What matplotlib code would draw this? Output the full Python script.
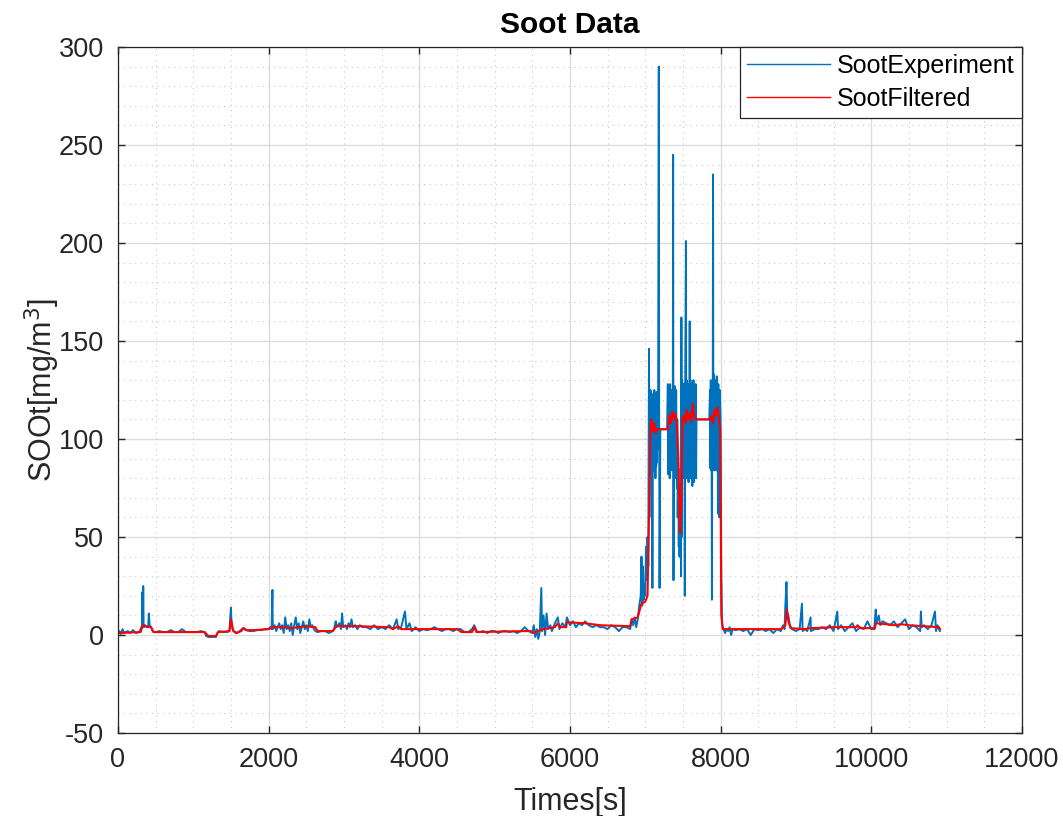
import matplotlib.pyplot as plt
from matplotlib.ticker import MultipleLocator

plt.rcParams['font.family'] = ['Liberation Sans', 'DejaVu Sans']
plt.rcParams['axes.unicode_minus'] = False

# SootExperiment (time [s], value)
t_exp = [
    0, 20, 40, 60, 80, 100, 130, 160, 200, 240, 280, 300, 320, 325, 330, 335, 340, 345, 360, 380,
    400, 410, 420, 440, 460, 480, 500, 550, 600, 650, 700, 750, 800, 850, 900, 950, 1000,
    1050, 1100, 1150, 1170, 1200, 1250, 1300, 1320, 1340, 1400, 1450, 1480, 1490, 1500, 1505,
    1520, 1560, 1600, 1640, 1660, 1680, 1700, 1750, 1800, 1850, 1900, 1950, 2000,
    2020, 2040, 2050, 2055, 2080, 2100, 2120, 2140, 2160, 2180, 2200, 2220, 2240, 2260, 2280,
    2300, 2320, 2340, 2360, 2380, 2400, 2420, 2440, 2460, 2480, 2500, 2520, 2540, 2560, 2580,
    2600, 2620, 2650, 2700, 2750, 2800, 2850, 2870, 2890, 2900, 2920, 2940, 2960, 2975, 2990,
    3020, 3040, 3060, 3080, 3100, 3120, 3150, 3180, 3210, 3250, 3300, 3350, 3400, 3450, 3500,
    3550, 3600, 3650, 3700, 3720, 3760, 3810, 3830, 3870, 3900, 3950, 4000,
    4050, 4100, 4150, 4200, 4250, 4300, 4350, 4400, 4450, 4500, 4550, 4600, 4650, 4700, 4730,
    4760, 4800, 4850, 4900, 4950, 5000,
    5050, 5100, 5150, 5200, 5250, 5300, 5350, 5400, 5450, 5500, 5520, 5540, 5560, 5580, 5600,
    5620, 5630, 5650, 5670, 5690, 5710, 5740, 5760, 5800, 5840, 5860, 5900, 5940, 5960, 6000,
    6040, 6080, 6120, 6160, 6200, 6250, 6300, 6350, 6400, 6450, 6500, 6550, 6600, 6650, 6700,
    6750, 6800, 6820, 6840, 6860, 6880, 6900, 6920, 6940, 6950, 6960, 6970, 6980, 6990, 7000,
    7010, 7020, 7030, 7040,
    7050, 7055, 7060, 7065, 7070, 7075, 7080, 7085, 7090, 7095, 7100, 7105, 7110, 7115, 7120,
    7125, 7130, 7135, 7140, 7145, 7150, 7155, 7160, 7165, 7170, 7180, 7185, 7190, 7200, 7230,
    7260, 7290,
    7300, 7305, 7310, 7315, 7320, 7325, 7330, 7335, 7340, 7345, 7350, 7355, 7360, 7365, 7370,
    7375, 7380, 7385, 7390, 7395, 7400, 7405, 7410, 7420, 7425, 7430, 7440, 7445, 7450, 7455,
    7460, 7465, 7470, 7475, 7480, 7485, 7490, 7495, 7500, 7505, 7510, 7515, 7520, 7525, 7530,
    7540, 7545, 7550, 7555, 7560, 7565, 7570, 7575, 7580, 7585, 7590, 7595, 7600, 7605, 7610,
    7615, 7620, 7625, 7630, 7635, 7640, 7645, 7650, 7655, 7660, 7665, 7670, 7675, 7680,
    7700, 7780, 7850,
    7860, 7865, 7870, 7875, 7880, 7885, 7890, 7895, 7900, 7905, 7910, 7915, 7920, 7925, 7930,
    7935, 7940, 7945, 7950, 7955, 7960, 7965, 7970, 7975, 7980, 7985, 7990, 8000, 8010, 8020,
    8040, 8060, 8080, 8100, 8120, 8140, 8160, 8200, 8250, 8300, 8350, 8400, 8450, 8500, 8550,
    8600, 8650, 8700, 8750, 8800, 8830, 8850, 8860, 8875, 8885, 8900, 8920, 8950, 9000, 9050,
    9080, 9090, 9120, 9150, 9195, 9200, 9250, 9300, 9350, 9400, 9450, 9500, 9550, 9560, 9600,
    9650, 9700, 9750, 9800, 9850, 9900, 9950, 10000, 10040, 10060, 10070, 10100, 10120, 10150,
    10200, 10250, 10300, 10350, 10400, 10450, 10500, 10550, 10600, 10650, 10660, 10670, 10700,
    10750, 10800, 10846, 10860, 10880, 10900, 10912,
]
soot_exp = [
    1, 2, 0.5, 3, 1, 1.5, 2, 1, 2.5, 1, 1.5, 3, 5, 22, 4, 25, 5, 4, 5, 4,
    4, 11, 5, 4, 2, 1.5, 1.5, 2, 1.5, 1.5, 2.5, 1.5, 1.5, 3, 1.5, 1.5, 1.5,
    1.5, 2, 1.5, -0.5, -1, -1, -1, 1, 2, 1.5, 1.5, 2, 9, 14, 8,
    3, 1, 1.5, 2, 3, 3.5, 2.5, 2, 2, 2.5, 2.5, 3, 3,
    4, 3, 23, 3, 5, 2, 4, 6, 3, 5, 1, 9, 3, 5, 2,
    6, 0, 5, 9, 3, 6, 1, 4, 7, 3, 5, 2, 8, 4, 5,
    3, 2, 1.5, 2, 2, 1, 2, 3, 7, 4, 5, 6, 3, 11, 4,
    5, 3, 6, 4, 8, 4, 5, 3, 5, 4, 4, 3, 5, 3, 4,
    3, 5, 3, 8, 3, 4, 12, 3, 6, 2, 4, 2,
    3, 2.5, 3, 4, 3, 2, 3, 3, 2, 3, 3, 1.5, 1.5, 3, 5,
    2, 1.5, 2, 1, 2, 2,
    1, 2, 2, 1.5, 2, 1, 2, 4, 2, 1, 5, -1, 3, -2, 2,
    24, 2, 10, 0, 11, 3, 5, 2, 6, 9, 3, 6, 4, 9, 5,
    7, 4, 6, 5, 7, 5, 4, 5, 4, 4, 3, 5, 4, 2, 4,
    4, 3, 8, 5, 9, 4, 8, 15, 20, 40, 15, 35, 18, 25, 20,
    45, 28, 50, 35,
    146, 60, 120, 85, 125, 82, 118, 88, 123, 24, 122, 85, 115, 84, 125,
    95, 120, 80, 115, 86, 124, 88, 120, 95, 105, 290, 105, 24, 105, 105,
    105, 105,
    128, 82, 125, 86, 120, 80, 128, 85, 118, 84, 125, 85, 122, 90, 245,
    28, 120, 82, 127, 80, 120, 85, 125, 75, 110, 60, 85, 45, 70, 40,
    60, 40, 75, 30, 162, 50, 130, 82, 125, 80, 128, 85, 120, 20, 125,
    201, 85, 130, 80, 120, 84, 128, 78, 125, 85, 160, 86, 130, 80, 120,
    84, 128, 76, 125, 85, 130, 78, 120, 84, 125, 85, 128, 80, 110,
    110, 110, 110,
    125, 85, 130, 84, 120, 18, 128, 86, 235, 90, 133, 84, 125, 88, 130,
    85, 128, 84, 132, 90, 125, 62, 128, 85, 120, 60, 125, 110, 30, 5,
    3, 1, 3, 2, 4, 0, 3, 2.5, 3, 2, 3, 0, 3, 2.5, 3,
    2, 3, 1, 3, 2, 5, 3, 15, 27, 12, 10, 5, 3, 2, 3,
    16, 2, 3, 2, 9, 2, 3, 3, 4, 3, 5, 2, 12, 3, 5,
    2, 4, 6, 2, 4, 3, 7, 3, 3, 13, 6, 10, 5, 7,
    6, 5, 7, 4, 6, 8, 3, 5, 4, 2, 12, 4, 5,
    3, 5, 12, 2, 5, 3, 2,
]

# SootFiltered (time [s], value)
t_filt = [
    0, 300, 330, 360, 440, 470, 1150, 1200, 1300, 1330, 1480, 1500, 1530, 1580, 1620, 1660,
    1700, 1800, 2000, 2050, 2200, 2300, 2400, 2500, 2620, 2650, 2850, 2900, 3200, 3600, 3650,
    3720, 3760, 4500, 4560, 4700, 4730, 4760, 5400, 5480, 5520, 5570, 5650, 5800, 5840, 5870,
    5950, 5960, 6200, 6400, 6800, 6820, 6900, 6950, 7000, 7030, 7050, 7070, 7080, 7100, 7120,
    7140, 7160, 7300, 7320, 7340, 7360, 7380, 7400, 7420, 7440, 7455, 7465, 7480, 7495, 7510,
    7530, 7550, 7570, 7590, 7610, 7630, 7650, 7680, 7860, 7880, 7900, 7920, 7940, 7960, 7980,
    7995, 8010, 8030, 8800, 8860, 8880, 8900, 8930, 9100, 9200, 9500, 9800, 9820, 9850, 10050,
    10060, 10200, 10300, 10400, 10500, 10700, 10900, 10912,
]
soot_filt = [
    1, 1.5, 5, 4.5, 4, 1.5, 1.5, -0.5, -0.5, 1.5, 2, 8, 2, 1, 2, 3.5,
    2.5, 2.5, 3, 4, 4, 3.5, 4, 4.5, 4, 2, 2, 4.5, 4.5, 4, 3,
    4.5, 3, 3, 1.5, 1.5, 4, 1.5, 2, 2, 1, 2, 3, 4, 6, 4,
    4, 6.5, 6, 5, 4.5, 8, 9, 16, 17, 20, 60, 105, 110, 104, 108,
    103, 105, 105, 112, 108, 114, 110, 113, 108, 90, 60, 52, 70, 110, 112,
    108, 115, 110, 113, 109, 118, 111, 110, 110, 112, 108, 115, 112, 116, 110,
    105, 10, 3, 3, 5, 13, 7, 3.5, 3, 3.5, 4, 4, 5, 3.5, 3.5,
    6, 5.5, 5, 5.5, 5, 4.5, 4, 3,
]

fig = plt.figure(figsize=(10.63, 8.16), dpi=100)
ax = fig.add_axes([0.111, 0.1017, 0.8503, 0.8407])

ax.plot(t_exp, soot_exp, color='#0072BD', lw=1.4, label='SootExperiment')
ax.plot(t_filt, soot_filt, color='#FF0000', lw=1.5, label='SootFiltered')

ax.set_xlim(0, 12000)
ax.set_ylim(-50, 300)
ax.xaxis.set_major_locator(MultipleLocator(2000))
ax.xaxis.set_minor_locator(MultipleLocator(500))
ax.yaxis.set_major_locator(MultipleLocator(50))
ax.yaxis.set_minor_locator(MultipleLocator(10))

ax.grid(which='major', color='#dcdcdc', lw=1.0)
ax.grid(which='minor', color='#c8c8c8', lw=0.8, linestyle=(0, (1, 4)))
ax.set_axisbelow(True)

for s in ax.spines.values():
    s.set_color('#262626')
    s.set_linewidth(0.9)
ax.tick_params(which='major', direction='in', length=5, width=1.0, color='#262626',
               top=True, right=True, labelsize=19.5, labelcolor='#262626', pad=10)
ax.tick_params(which='minor', length=0, top=True, right=True)

ax.set_xlabel('Times[s]', fontsize=22, color='#262626', labelpad=10)
ax.set_ylabel('SOOt[mg/m$^3$]', fontsize=22, color='#262626', labelpad=-2)
ax.set_title('Soot Data', fontsize=21.5, fontweight='bold', pad=10)

leg = ax.legend(loc='upper right', fontsize=18, fancybox=False, framealpha=1,
                edgecolor='#262626', borderaxespad=0, handlelength=3.3,
                handletextpad=0.3, borderpad=0.28, labelspacing=0.36)
leg.get_frame().set_linewidth(0.9)
for h in leg.get_lines():
    h.set_linewidth(1.0)

fig.savefig('out.png', dpi=100)
